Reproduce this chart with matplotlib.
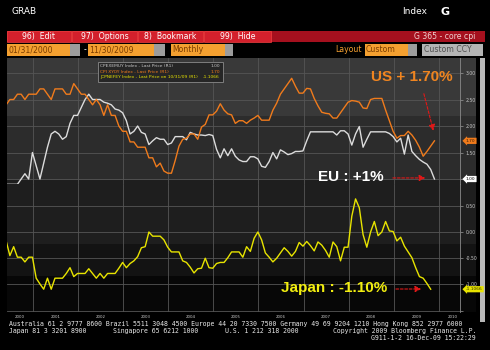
import numpy as np
import pandas as pd
import matplotlib
matplotlib.use("Agg")
import matplotlib.pyplot as plt
from matplotlib.patches import Rectangle

# ---------------- data (monthly, visible window May-2000 .. Nov-2009) ----------------
us_core = [2.4, 2.5, 2.5, 2.6, 2.6, 2.5, 2.6, 2.6,
           2.6, 2.7, 2.7, 2.6, 2.5, 2.7, 2.7, 2.7, 2.6, 2.6, 2.8, 2.7,
           2.6, 2.6, 2.5, 2.4, 2.5, 2.4, 2.2, 2.4, 2.2, 2.2, 2.0, 1.9,
           1.9, 1.7, 1.7, 1.6, 1.6, 1.6, 1.4, 1.4, 1.23, 1.3, 1.15, 1.11,
           1.11, 1.35, 1.62, 1.75, 1.77, 1.85, 1.85, 1.75, 1.98, 2.03, 2.21, 2.21,
           2.28, 2.42, 2.3, 2.23, 2.21, 2.05, 2.1, 2.1, 2.05, 2.11, 2.15, 2.2,
           2.11, 2.11, 2.11, 2.3, 2.43, 2.6, 2.7, 2.8, 2.9, 2.75, 2.62, 2.62,
           2.71, 2.7, 2.52, 2.38, 2.26, 2.24, 2.23, 2.15, 2.15, 2.25, 2.35, 2.45,
           2.48, 2.47, 2.45, 2.34, 2.33, 2.5, 2.52, 2.52, 2.52, 2.3, 2.1, 1.9,
           1.77, 1.82, 1.82, 1.9, 1.83, 1.73, 1.6, 1.43, 1.52, 1.62, 1.72]
eu_core = [0.9, 0.9, 0.9, 0.9, 1.0, 1.1, 1.0, 1.5,
           1.25, 1.0, 1.3, 1.6, 1.85, 1.9, 1.85, 1.75, 1.8, 2.05, 2.2, 2.2,
           2.35, 2.5, 2.6, 2.5, 2.5, 2.5, 2.45, 2.43, 2.4, 2.32, 2.3, 2.25,
           2.1, 1.85, 1.9, 2.0, 1.88, 1.85, 1.65, 1.72, 1.78, 1.75, 1.75, 1.65,
           1.68, 1.8, 1.8, 1.8, 1.74, 1.88, 1.85, 1.83, 1.83, 1.82, 1.84, 1.82,
           1.56, 1.4, 1.57, 1.44, 1.57, 1.43, 1.36, 1.33, 1.33, 1.42, 1.42, 1.38,
           1.24, 1.22, 1.33, 1.5, 1.38, 1.55, 1.51, 1.46, 1.48, 1.52, 1.52, 1.53,
           1.72, 1.89, 1.89, 1.89, 1.89, 1.89, 1.89, 1.89, 1.83, 1.91, 1.91, 1.85,
           1.64, 1.85, 1.99, 1.6, 1.75, 1.89, 1.89, 1.89, 1.89, 1.89, 1.86, 1.8,
           1.7, 1.77, 1.47, 1.83, 1.52, 1.44, 1.37, 1.32, 1.28, 1.18, 1.0]
jp_core = [-0.17, -0.45, -0.28, -0.48, -0.48, -0.57, -0.48, -0.48,
           -0.88, -0.99, -1.09, -0.88, -1.09, -0.88, -0.88, -0.88, -0.79, -0.68, -0.85, -0.79,
           -0.79, -0.79, -0.7, -0.79, -0.88, -0.79, -0.88, -0.79, -0.79, -0.79, -0.69, -0.58,
           -0.68, -0.6, -0.55, -0.47, -0.3, -0.28, 0.0, -0.08, -0.08, -0.08, -0.15, -0.29,
           -0.38, -0.38, -0.38, -0.55, -0.58, -0.67, -0.78, -0.7, -0.69, -0.5, -0.68, -0.69,
           -0.6, -0.58, -0.58, -0.49, -0.38, -0.38, -0.38, -0.48, -0.28, -0.37, -0.12, 0.0,
           -0.15, -0.4, -0.48, -0.57, -0.5, -0.4, -0.3, -0.37, -0.46, -0.37, -0.2, -0.27,
           -0.18, -0.26, -0.36, -0.19, -0.25, -0.35, -0.48, -0.19, -0.28, -0.55, -0.29, -0.29,
           0.3, 0.63, 0.46, -0.05, -0.29, 0.0, 0.2, -0.07, 0.0, 0.2, 0.02, 0.01,
           -0.17, -0.1, -0.27, -0.38, -0.49, -0.68, -0.85, -0.88, -0.98, -1.09]

us_eu_months = pd.period_range("2000-05", "2009-11", freq="M")
jp_months = pd.period_range("2000-05", "2009-10", freq="M")
years = list(range(2000, 2011))
upper_ticks = [1.00, 1.50, 2.00, 2.50, 3.00]
lower_ticks = [-1.50, -1.00, -0.50, 0.00, 0.50]
lower_tick_labels = [-1.00, -0.50, 0.00, 0.50]

legend_rows = [("CPEXEMUY Index - Last Price (R1)", "1.00"),
               ("CPI XYOY Index - Last Price (R1)", "1.70"),
               ("JCPNEFEY Index - Last Price on 10/31/09 (R1)", "-1.1066")]

def month_index(periods):
    return np.array((periods.year - 2000) * 12 + periods.month - 1, dtype=float)

x_ue = month_index(us_eu_months)
x_jp = month_index(jp_months)

# ---------------- colours ----------------
ORANGE = "#f07b1c"
WHITE_L = "#dcdcdc"
YELLOW = "#e8e400"
RED_ARROW = "#e01818"

W, H = 490, 350
fig = plt.figure(figsize=(4.9, 3.5), dpi=100, facecolor="black")

def fx(px):
    return px / W

def fy(py):
    return 1 - py / H

def rect(x0, y0, x1, y1, color, ec="none", lw=0, z=-5):
    fig.patches.append(Rectangle((fx(x0), fy(y1)), (x1 - x0) / W, (y1 - y0) / H,
                                 transform=fig.transFigure, facecolor=color,
                                 edgecolor=ec, linewidth=lw, zorder=z))

def ftext(x, y, s, **kw):
    kw.setdefault("va", "center")
    kw.setdefault("color", "white")
    fig.text(fx(x), fy(y), s, **kw)

# ---------------- header ----------------
ftext(11, 12, "GRAB", fontsize=6.5, family="DejaVu Sans")
ftext(402, 12, "Index", fontsize=6.5, family="DejaVu Sans")
ftext(440, 12, "G", fontsize=8, family="DejaVu Sans", weight="bold")

# toolbar row 1
rect(7, 31, 485, 42, "#a5101e")
for (a, b, lab) in [(7, 71, "96)  Edit"), (72, 137, "97)  Options"),
                    (138, 203, "8)  Bookmark"), (204, 271, "99)  Hide")]:
    rect(a, 31, b, 42, "#d3202c", ec="#f04040", lw=0.5, z=-4)
    ftext((a + b) / 2, 36.8, lab, fontsize=5.6, ha="center", family="DejaVu Sans")
ftext(475, 36.8, "G 365 - core cpi", fontsize=5.6, ha="right", family="DejaVu Sans",
      color="#f0d0d0")

# toolbar row 2
OR_BOX = "#f4a030"
GR_BOX = "#9c9c9c"
rect(7, 44, 70, 55.5, OR_BOX)
rect(70, 44, 80, 55.5, GR_BOX)
ftext(8, 49.8, "01/31/2000", fontsize=5.6, color="#7a3c00", family="DejaVu Sans")
ftext(84, 49.8, "-", fontsize=5.6, color="white")
rect(88, 44, 154, 55.5, OR_BOX)
rect(154, 44, 165, 55.5, GR_BOX)
ftext(89, 49.8, "11/30/2009", fontsize=5.6, color="#7a3c00", family="DejaVu Sans")
rect(171, 44, 225, 55.5, OR_BOX)
rect(225, 44, 233, 55.5, GR_BOX)
ftext(172, 49.8, "Monthly", fontsize=5.6, color="#7a3c00", family="DejaVu Sans")
ftext(362, 49.8, "Layout", fontsize=5.6, color=OR_BOX, ha="right", family="DejaVu Sans")
rect(365, 44, 408, 55.5, OR_BOX)
rect(408, 44, 417, 55.5, GR_BOX)
ftext(366, 49.8, "Custom", fontsize=5.6, color="#7a3c00", family="DejaVu Sans")
rect(422, 44, 483, 55.5, "#b4b4b4")
ftext(424, 49.8, "Custom CCY", fontsize=5.6, color="#505050", family="DejaVu Sans")

# ---------------- chart background bands ----------------
rect(7, 58, 476, 116, "#393939")
rect(7, 116, 476, 180, "#2c2c2c")
rect(7, 180, 476, 244, "#1e1e1e")
rect(7, 244, 476, 276, "#131313")
rect(7, 276, 476, 312, "#070707")
# scrollbar
rect(480, 58, 485, 322, "#b8b8b8")

# ---------------- axes ----------------
ax1 = fig.add_axes([fx(7), fy(184), (460 - 7) / W, (184 - 58) / H], facecolor="none")
ax2 = fig.add_axes([fx(7), fy(312), (460 - 7) / W, (312 - 184) / H], facecolor="none")

XL = (4.23, 124.8)
year_bounds = [12 * (y - 2000) - 0.85 for y in years[1:]]
label_pos = []
for y in years:
    a = max(12 * (y - 2000) - 0.85, XL[0])
    b = min(12 * (y - 2000 + 1) - 0.85, XL[1] + 2)
    label_pos.append((a + b) / 2)

for ax in (ax1, ax2):
    ax.set_xlim(*XL)
    for s in ("left", "top", "bottom"):
        ax.spines[s].set_visible(False)
    ax.spines["right"].set_color("#8a8a8a")
    ax.spines["right"].set_linewidth(0.6)
    ax.yaxis.tick_right()
    ax.tick_params(axis="y", which="major", length=2.5, width=0.5, color="#9a9a9a",
                   labelsize=3.3, labelcolor="#c8c8c8", pad=1.5, direction="out")
    ax.set_xticks(year_bounds, minor=True)
    ax.grid(which="minor", axis="x", color="#555555", lw=0.6)
    ax.grid(which="major", axis="y", color="#555555", lw=0.6)

ax1.set_ylim(0.906, 3.283)
ax1.set_yticks(upper_ticks)
ax1.set_yticklabels([f"{v:.2f}" for v in upper_ticks])
ax1.set_xticks([])
ax1.tick_params(axis="x", which="both", length=0)

ax2.set_ylim(-1.524, 0.914)
ax2.set_yticks(lower_ticks)
ax2.set_yticklabels(["" if v < -1.2 else f"{v:.2f}" for v in lower_ticks])
ax2.set_xticks(label_pos)
ax2.set_xticklabels([str(y) for y in years])
ax2.tick_params(axis="x", which="major", length=0, labelsize=2.8, labelcolor="#d0d0d0", pad=2.2)
ax2.tick_params(axis="x", which="minor", length=0)

# series
ax1.plot(x_ue, eu_core, color=WHITE_L, lw=1.0, zorder=3)
ax1.plot(x_ue, us_core, color=ORANGE, lw=1.0, zorder=4)
ax2.plot(x_jp, jp_core, color=YELLOW, lw=1.0, zorder=3)

# last-value tags
def tag(ax, val, txt, fc, tc):
    ax.annotate(txt, xy=(1, val), xycoords=("axes fraction", "data"),
                xytext=(4.2, 0), textcoords="offset points", fontsize=3.2,
                color=tc, va="center", ha="left", annotation_clip=False,
                bbox=dict(boxstyle="larrow,pad=0.25", fc=fc, ec="none"), zorder=10)

tag(ax1, us_core[-1], f"{us_core[-1]:.2f}".replace("1.72", "1.70"), ORANGE, "#3a1a00")
tag(ax1, eu_core[-1], f"{eu_core[-1]:.2f}", "white", "black")
tag(ax2, jp_core[-1], "-1.1066", YELLOW, "#303000")

# bottom axis line
rect(7, 319.5, 460, 320.3, "#9a9a9a", z=1)

# ---------------- legend box ----------------
rect(98, 62, 223, 82, "#262626", ec="#8a8a8a", lw=0.6, z=5)
leg_cols = ["#c8c8c8", ORANGE, YELLOW]
for i, ((lab, val), c) in enumerate(zip(legend_rows, leg_cols)):
    yy = 66.2 + i * 5.4
    fig.text(fx(100), fy(yy), lab, fontsize=3.2, color=c, va="center", zorder=6)
    fig.text(fx(220), fy(yy), val, fontsize=3.2, color=c, va="center", ha="right", zorder=6)

# ---------------- annotations ----------------
ANN_FONT = "Liberation Sans"
ax1.text(112.0, 2.92, "US + 1.70%", color="#f08520", fontsize=11, weight="bold",
         family=ANN_FONT, ha="center", va="center", zorder=8)
ax1.annotate("", xy=(117.9, 1.86), xytext=(115.0, 2.66),
             arrowprops=dict(arrowstyle="-|>,head_length=0.35,head_width=0.18",
                             color=RED_ARROW, lw=0.8, ls=(0, (2.5, 1.5))), zorder=8)
ax1.text(95.8, 1.04, "EU : +1%", color="white", fontsize=11, weight="bold",
         family=ANN_FONT, ha="center", va="center", zorder=8, clip_on=False)
ax1.annotate("", xy=(116.3, 1.02), xytext=(106.2, 1.02),
             arrowprops=dict(arrowstyle="-|>,head_length=0.35,head_width=0.18",
                             color=RED_ARROW, lw=0.8, ls=(0, (2.5, 1.5))), zorder=8)
ax2.text(91.4, -1.067, "Japan : -1.10%", color="#f2ee10", fontsize=11, weight="bold",
         family=ANN_FONT, ha="center", va="center", zorder=8)
ax2.annotate("", xy=(115.2, -1.086), xytext=(107.0, -1.086),
             arrowprops=dict(arrowstyle="-|>,head_length=0.35,head_width=0.18",
                             color=RED_ARROW, lw=0.8, ls=(0, (2.5, 1.5))), zorder=8)

# ---------------- footer ----------------
MONO = dict(fontsize=4.7, family="DejaVu Sans Mono", color="#e8e8e8")
ftext(9, 324, "Australia 61 2 9777 8600 Brazil 5511 3048 4500 Europe 44 20 7330 7500 "
              "Germany 49 69 9204 1210 Hong Kong 852 2977 6000", **MONO)
ftext(9, 331, "Japan 81 3 3201 8900", **MONO)
ftext(113, 331, "Singapore 65 6212 1000", **MONO)
ftext(225, 331, "U.S. 1 212 318 2000", **MONO)
ftext(476, 331, "Copyright 2009 Bloomberg Finance L.P.", ha="right", **MONO)
ftext(476, 338, "G911-1-2 16-Dec-09 15:22:29", ha="right", **MONO)

fig.savefig("out.png", dpi=100, facecolor="black")
